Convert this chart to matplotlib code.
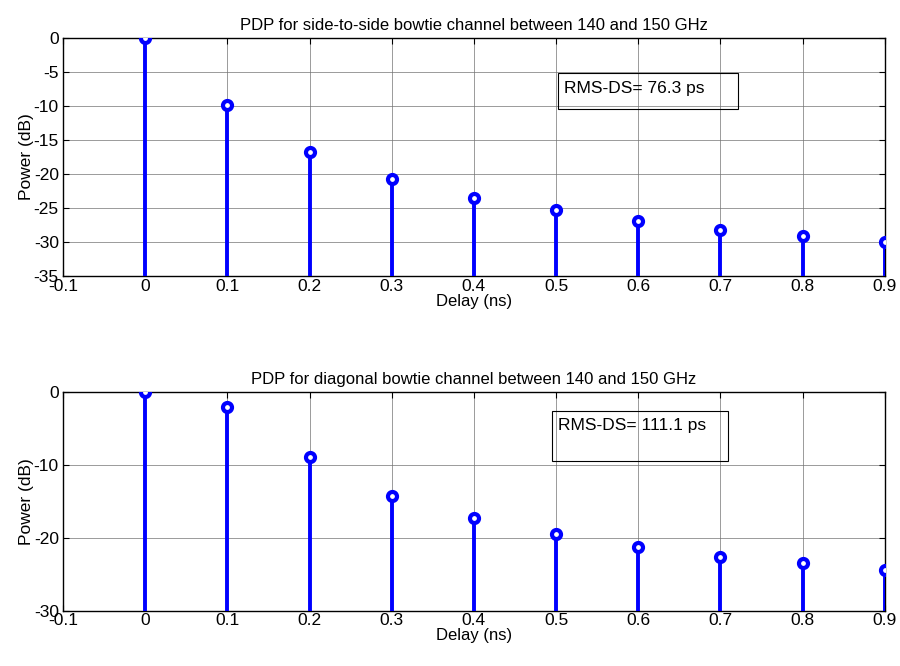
import matplotlib
matplotlib.use("Agg")
import matplotlib.pyplot as plt
from matplotlib.patches import Rectangle

plt.rcParams['font.family'] = ['Liberation Sans', 'DejaVu Sans']

delay = [0.0, 0.1, 0.2, 0.3, 0.4, 0.5, 0.6, 0.7, 0.8, 0.9]
side_db = [0.0, -9.9, -16.7, -20.8, -23.5, -25.3, -26.9, -28.2, -29.1, -30.0]
diag_db = [0.0, -2.1, -8.9, -14.2, -17.3, -19.5, -21.2, -22.6, -23.5, -24.4]
xticks = [-0.1, 0, 0.1, 0.2, 0.3, 0.4, 0.5, 0.6, 0.7, 0.8, 0.9]
xticklabels = ["-0.1", "0", "0.1", "0.2", "0.3", "0.4", "0.5", "0.6", "0.7", "0.8", "0.9"]

fig = plt.figure(figsize=(9, 6.66), dpi=100)
ax1 = fig.add_axes([0.07, 0.5856, 0.913, 0.3574])
ax2 = fig.add_axes([0.07, 0.083, 0.913, 0.3284])


def pdp(ax, y, bottom, yticks, title, label, box):
    ml, sl, bl = ax.stem(delay, y, bottom=bottom, basefmt=" ")
    plt.setp(sl, color="blue", linewidth=2.8, zorder=3)
    plt.setp(ml, marker="o", markersize=6.5, markerfacecolor="white",
             markeredgecolor="blue", markeredgewidth=3.0, zorder=4)
    ax.set_xlim(-0.1, 0.9)
    ax.set_ylim(bottom, 0)
    ax.set_xticks(xticks)
    ax.set_xticklabels(xticklabels)
    ax.set_yticks(yticks)
    ax.set_yticklabels([str(v) for v in yticks])
    ax.tick_params(direction="in", top=True, right=True, labelsize=12.5,
                   length=4, width=0.8, pad=2)
    ax.tick_params(axis="y", pad=3)
    ax.grid(True, color="0.45", linestyle="-", linewidth=0.5, zorder=1)
    for s in ax.spines.values():
        s.set_linewidth(1.0)
    ax.set_title(title, fontsize=12, pad=6)
    ax.set_xlabel("Delay (ns)", fontsize=12, labelpad=0)
    ax.set_ylabel("Power (dB)", fontsize=12.5, labelpad=0)
    bx, by, bw, bh = box
    ax.add_patch(Rectangle((bx, by), bw, bh, transform=ax.transAxes,
                           fill=False, edgecolor="k", linewidth=0.8, zorder=5))
    ax.text(bx + 0.008, by + bh - 0.03, label, transform=ax.transAxes,
            fontsize=12.5, va="top", ha="left", zorder=5)


pdp(ax1, side_db, -35, [0, -5, -10, -15, -20, -25, -30, -35],
    "PDP for side-to-side bowtie channel between 140 and 150 GHz",
    "RMS-DS= 76.3 ps", (0.602, 0.70, 0.219, 0.151))
pdp(ax2, diag_db, -30, [0, -10, -20, -30],
    "PDP for diagonal bowtie channel between 140 and 150 GHz",
    "RMS-DS= 111.1 ps", (0.595, 0.685, 0.214, 0.228))

fig.savefig("out.png", dpi=100)
